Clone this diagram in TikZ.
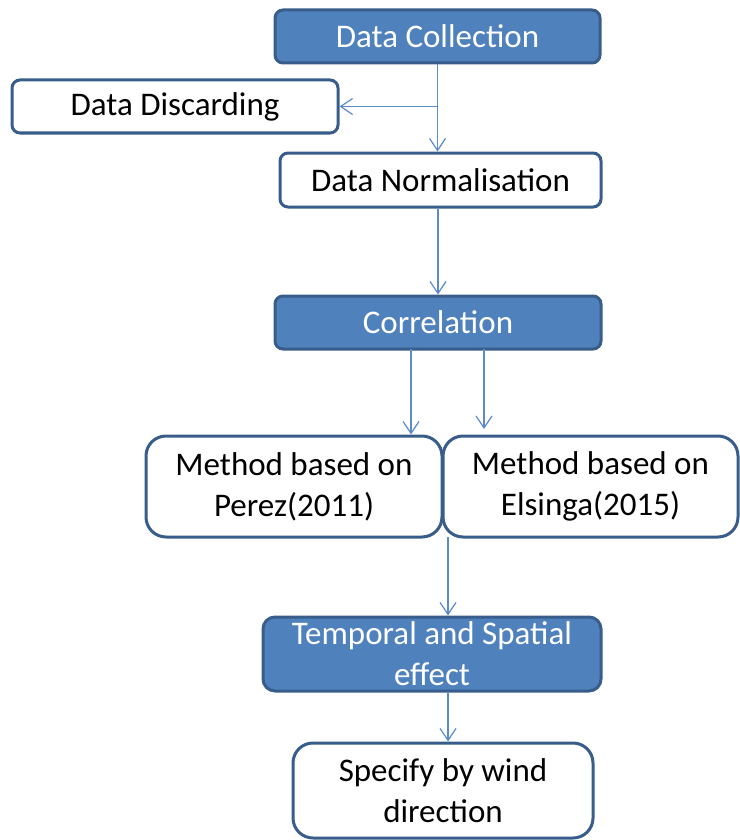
\documentclass[tikz,border=0pt]{standalone}
\usepackage{fontspec}
\setmainfont{Carlito}
\usepackage{tikz}
\usetikzlibrary{arrows.meta}

\definecolor{boxblue}{HTML}{4F81BD}
\definecolor{edgeblue}{HTML}{385D8A}
\definecolor{linkblue}{HTML}{5B8BC9}

\tikzset{
  box/.style={draw=edgeblue, line width=1.5pt, rounded corners=4pt,
    inner sep=0pt, align=center, font=\fontsize{16.5}{20.5}\selectfont},
  stepfill/.style={box, fill=boxblue, text=white},
  stepplain/.style={box, fill=white, text=black},
  arr/.style={draw=linkblue, line width=0.6pt,
    -{Straight Barb[length=6pt,width=8pt,line width=0.6pt]}}
}

\begin{document}
\begin{tikzpicture}[x=0.5pt, y=-0.5pt]
      \useasboundingbox (0,0) rectangle (739,840);

      \node[stepfill, minimum width=162.5pt, minimum height=26.5pt] (coll) at (437.5,36.5) {Data Collection};
      \node[stepplain, minimum width=163pt, minimum height=26.5pt] (disc) at (175,106.5) {Data Discarding};
      \node[stepplain, minimum width=160.5pt, minimum height=27pt] (norm) at (440.5,180) {Data Normalisation};
      \node[stepfill, minimum width=163pt, minimum height=26.5pt] (corr) at (438,322.5) {Correlation};

      \node[stepplain, rounded corners=10pt, minimum width=148pt, minimum height=50.5pt] (perez) at (294,486.5) {Method based on\\Perez(2011)};
      \node[stepplain, rounded corners=10pt, minimum width=147.5pt, minimum height=50.5pt] (elsinga) at (590.5,486.5) {Method based on\\Elsinga(2015)};

      \node[stepfill, rounded corners=6pt, minimum width=169pt, minimum height=37pt] (temp) at (432,654) {Temporal and Spatial\\effect};
      \node[stepplain, rounded corners=10pt, minimum width=150pt, minimum height=47.5pt] (spec) at (443,790.5) {Specify by wind\\direction};

      % free ends of the links
      \coordinate (cl) at (411,349);
      \coordinate (cr) at (484,349);
      \coordinate (er) at (484,429);
      \coordinate (gap) at (448,537);

      \draw[arr] (coll.south) -- (coll.south |- norm.north);
      \draw[arr] (coll.south |- disc.east) -- (disc.east);
      \draw[arr] (corr.north |- norm.south) -- (corr.north);
      \draw[arr] (cl) -- (cl |- perez.north);
      \draw[arr] (cr) -- (er);
      \draw[arr] (gap) -- (gap |- temp.north);
      \draw[arr] (gap |- temp.south) -- (gap |- spec.north);

\end{tikzpicture}
\end{document}
